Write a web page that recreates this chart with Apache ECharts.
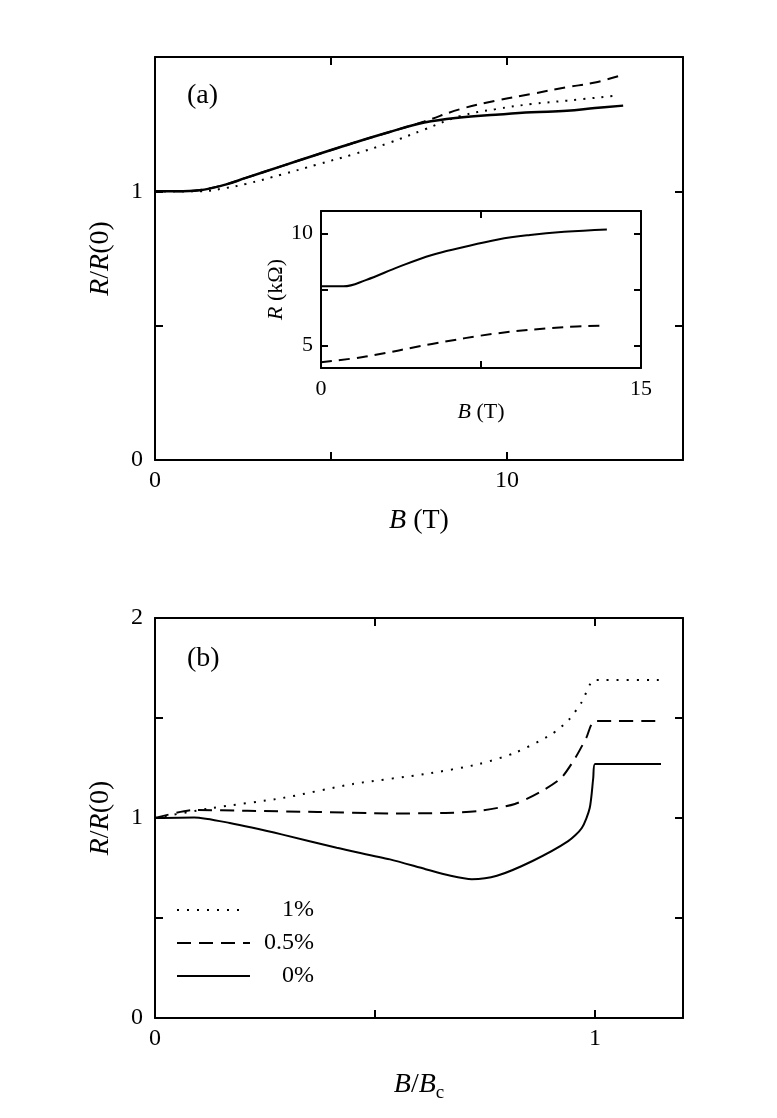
<!DOCTYPE html>
<html>
<head>
<meta charset="utf-8">
<script src="https://cdn.jsdelivr.net/npm/echarts@6/dist/echarts.min.js"></script>
<style>
  html, body { margin: 0; padding: 0; background: #fff; }
  #chart { width: 777px; height: 1118px; }
</style>
</head>
<body>
<div id="chart"></div>
<script>
// panel (a): R/R(0) vs B (T)
var aSolidB   = [0, 0.6, 1.27, 2, 2.58, 3.6, 4.61, 5.63, 6.64, 7.65, 8.67, 9.68, 10.7, 11.7, 12.5, 13.3];
var aSolidR   = [1.0, 1.0, 1.004, 1.025, 1.05, 1.094, 1.137, 1.18, 1.22, 1.256, 1.275, 1.285, 1.294, 1.30, 1.31, 1.319];
var aDashedB  = [0, 0.6, 1.27, 2, 2.58, 3.6, 4.61, 5.63, 6.64, 7.65, 8.67, 9.68, 10.7, 11.7, 12.5, 13.3];
var aDashedR  = [1.0, 1.0, 1.005, 1.025, 1.05, 1.094, 1.137, 1.18, 1.22, 1.26, 1.306, 1.3375, 1.3625, 1.3875, 1.405, 1.434];
var aDottedB  = [0, 0.6, 1.27, 2, 2.58, 3.6, 4.61, 5.63, 6.64, 7.65, 8.67, 9.68, 10.7, 11.7, 13.1];
var aDottedR  = [1.0, 1.0, 1.0, 1.012, 1.0275, 1.0625, 1.10, 1.1375, 1.18, 1.23, 1.28, 1.306, 1.325, 1.3375, 1.356];

// inset: R (kOhm) vs B (T)
var inSolidB  = [0, 1.05, 2.1, 3.67, 5.2, 6.5, 8.3, 9.8, 11.4, 13.4];
var inSolidR  = [7.64, 7.64, 7.92, 8.52, 9.04, 9.35, 9.73, 9.93, 10.07, 10.18];
var inDashedB = [0, 2.1, 5.2, 8.3, 11.4, 13.2];
var inDashedR = [4.26, 4.51, 5.07, 5.55, 5.82, 5.89];

// panel (b): R/R(0) vs B/Bc
var bDottedX  = [0, 0.13, 0.29, 0.45, 0.615, 0.737, 0.818, 0.9, 0.94, 0.97, 1.0, 1.15];
var bDottedR  = [1.0, 1.05, 1.10, 1.17, 1.22, 1.27, 1.326, 1.417, 1.49, 1.58, 1.69, 1.69];
var bDashedX  = [0, 0.09, 0.21, 0.37, 0.53, 0.66, 0.737, 0.818, 0.88, 0.923, 0.955, 0.98, 1.0, 1.15];
var bDashedR  = [1.0, 1.04, 1.036, 1.03, 1.023, 1.025, 1.036, 1.07, 1.136, 1.2, 1.30, 1.40, 1.485, 1.485];
var bSolidX   = [0, 0.089, 0.17, 0.29, 0.413, 0.534, 0.615, 0.672, 0.72, 0.777, 0.858, 0.939, 0.97, 0.988, 0.996, 1.0, 1.15];
var bSolidR   = [1.0, 1.003, 0.975, 0.917, 0.851, 0.793, 0.744, 0.711, 0.694, 0.711, 0.785, 0.884, 0.95, 1.05, 1.2, 1.27, 1.27];

// tick labels that are printed
var aXLabels = [0, 10];
var aYLabels = [0, 1];
var inXLabels = [0, 15];
var inYLabels = [5, 10];
var bXLabels = [0, 1];
var bYLabels = [0, 1, 2];
var legendNames = ['1%', '0.5%', '0%'];

var FONT = 'Liberation Serif';

function pairs(xs, ys) {
    var out = [];
    for (var i = 0; i < xs.length; i++) out.push([xs[i], ys[i]]);
    return out;
}

function labelOnly(list) {
    return function (v) {
        for (var i = 0; i < list.length; i++) {
            if (Math.abs(v - list[i]) < 1e-6) return String(list[i]);
        }
        return '';
    };
}

// one axis of the box; mirror=true -> top/right copy with no labels
function makeAxis(grid, pos, cfg, mirror, fontSize, tickLen) {
    var ax = {
        type: 'value',
        gridIndex: grid,
        position: pos,
        min: cfg.min,
        max: cfg.max,
        interval: cfg.interval,
        splitLine: {show: false},
        axisLine: {show: true, onZero: false, lineStyle: {color: '#000', width: 2}},
        axisTick: {show: true, inside: true, length: tickLen, lineStyle: {color: '#000', width: 2}},
        axisLabel: {
            show: !mirror,
            color: '#000',
            fontFamily: FONT,
            fontSize: fontSize,
            margin: cfg.margin || 8,
            formatter: labelOnly(cfg.labels || []),
            showMinLabel: true,
            showMaxLabel: true
        }
    };
    if (cfg.ticks) {
        ax.axisTick.customValues = cfg.ticks;
        ax.axisLabel.customValues = cfg.labels;
    }
    if (!mirror && cfg.name) {
        ax.name = cfg.name;
        ax.nameLocation = 'middle';
        ax.nameGap = cfg.nameGap;
        ax.nameRotate = cfg.nameRotate;
        ax.nameTextStyle = {
            color: '#000', fontFamily: FONT, fontSize: cfg.nameSize,
            rich: cfg.rich
        };
    }
    return ax;
}

function lineSeries(xi, yi, data, dash, width, smooth) {
    return {
        type: 'line',
        xAxisIndex: xi,
        yAxisIndex: yi,
        data: data,
        showSymbol: false,
        smooth: smooth,
        silent: true,
        lineStyle: {color: '#000', width: width || 2, type: dash}
    };
}

var richBig = {
    i: {fontStyle: 'italic', fontFamily: FONT, fontSize: 28, color: '#000'},
    n: {fontFamily: FONT, fontSize: 28, color: '#000'},
    s: {fontFamily: FONT, fontSize: 19, color: '#000', padding: [18, 0, 0, 0]}
};
var richSmall = {
    i: {fontStyle: 'italic', fontFamily: FONT, fontSize: 22, color: '#000'},
    n: {fontFamily: FONT, fontSize: 22, color: '#000'}
};

var aX = {min: 0, max: 15, interval: 5, labels: aXLabels, margin: 9,
    name: '{i|B} {n|(T)}', nameGap: 47, rich: richBig, nameSize: 28};
var aY = {min: 0, max: 1.5, interval: 0.5, labels: aYLabels, margin: 12,
    name: '{i|R}{n|/}{i|R}{n|(0)}', nameGap: 40, nameRotate: 90, rich: richBig, nameSize: 28};
var inX = {min: 0, max: 15, interval: 7.5, labels: inXLabels, margin: 10,
    name: '{i|B} {n|(T)}', nameGap: 28, rich: richSmall, nameSize: 22};
var inY = {min: 4, max: 11, ticks: [5, 7.5, 10], labels: inYLabels, margin: 8,
    name: '{i|R} {n|(kΩ)}', nameGap: 29, nameRotate: 90, rich: richSmall, nameSize: 22};
var bX = {min: 0, max: 1.2, interval: 0.5, labels: bXLabels, margin: 9,
    name: '{i|B}{n|/}{i|B}{s|c}', nameGap: 48, rich: richBig, nameSize: 28};
var bY = {min: 0, max: 2, interval: 0.5, labels: bYLabels, margin: 12,
    name: '{i|R}{n|/}{i|R}{n|(0)}', nameGap: 40, nameRotate: 90, rich: richBig, nameSize: 28};

var chart = echarts.init(document.getElementById('chart'), null, {renderer: 'canvas'});

var option = {
    backgroundColor: '#fff',
    animation: false,
    grid: [
        {left: 155, top: 57, width: 528, height: 403},
        {left: 321, top: 211, width: 320, height: 157},
        {left: 155, top: 618, width: 528, height: 400}
    ],
    xAxis: [
        makeAxis(0, 'bottom', aX, false, 24, 8),
        makeAxis(0, 'top', aX, true, 24, 8),
        makeAxis(1, 'bottom', inX, false, 22, 7),
        makeAxis(1, 'top', inX, true, 22, 7),
        makeAxis(2, 'bottom', bX, false, 24, 8),
        makeAxis(2, 'top', bX, true, 24, 8)
    ],
    yAxis: [
        makeAxis(0, 'left', aY, false, 24, 8),
        makeAxis(0, 'right', aY, true, 24, 8),
        makeAxis(1, 'left', inY, false, 22, 7),
        makeAxis(1, 'right', inY, true, 22, 7),
        makeAxis(2, 'left', bY, false, 24, 8),
        makeAxis(2, 'right', bY, true, 24, 8)
    ],
    series: [
        lineSeries(0, 0, pairs(aDottedB, aDottedR), [2, 7], 2, 0.4),
        lineSeries(0, 0, pairs(aDashedB, aDashedR), [11, 7], 2, 0.4),
        lineSeries(0, 0, pairs(aSolidB, aSolidR), 'solid', 2.5, 0.4),
        lineSeries(2, 2, pairs(inSolidB, inSolidR), 'solid', 2, 0.4),
        lineSeries(2, 2, pairs(inDashedB, inDashedR), [11, 7], 2, 0.4),
        lineSeries(4, 4, pairs(bDottedX, bDottedR), [2, 8], 2, 0.25),
        lineSeries(4, 4, pairs(bDashedX, bDashedR), [14, 8], 2, 0.25),
        lineSeries(4, 4, pairs(bSolidX, bSolidR), 'solid', 2, 0.25)
    ],
    graphic: [
        {type: 'text', left: 187, top: 82, style: {text: '(a)', fontFamily: FONT, fontSize: 28, fill: '#000'}},
        {type: 'text', left: 187, top: 645, style: {text: '(b)', fontFamily: FONT, fontSize: 28, fill: '#000'}},
        {type: 'line', shape: {x1: 177, y1: 910, x2: 240, y2: 910},
            style: {stroke: '#000', lineWidth: 2, lineDash: [2, 8]}},
        {type: 'line', shape: {x1: 177, y1: 943, x2: 250, y2: 943},
            style: {stroke: '#000', lineWidth: 2, lineDash: [14, 8]}},
        {type: 'line', shape: {x1: 177, y1: 976, x2: 250, y2: 976},
            style: {stroke: '#000', lineWidth: 2}},
        {type: 'text', x: 314, y: 910, style: {text: legendNames[0], fontFamily: FONT, fontSize: 24,
            fill: '#000', align: 'right', verticalAlign: 'middle'}},
        {type: 'text', x: 314, y: 943, style: {text: legendNames[1], fontFamily: FONT, fontSize: 24,
            fill: '#000', align: 'right', verticalAlign: 'middle'}},
        {type: 'text', x: 314, y: 976, style: {text: legendNames[2], fontFamily: FONT, fontSize: 24,
            fill: '#000', align: 'right', verticalAlign: 'middle'}}
    ]
};

chart.setOption(option);
</script>
</body>
</html>
